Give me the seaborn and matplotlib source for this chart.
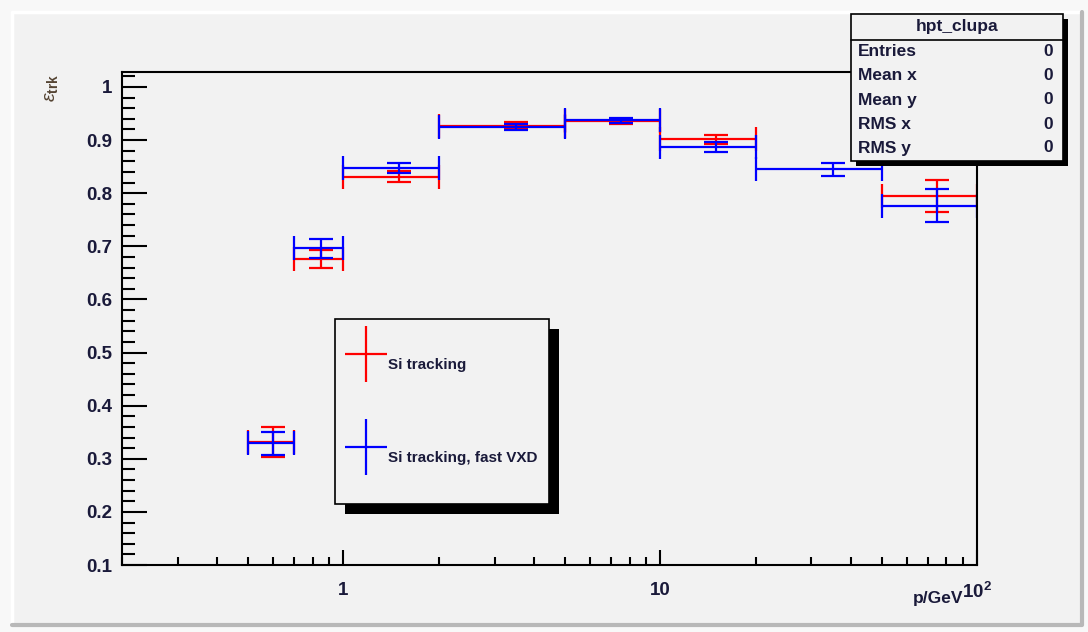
import numpy as np
import matplotlib
matplotlib.use("Agg")
import matplotlib.pyplot as plt
import seaborn as sns
from matplotlib.patches import Rectangle
from matplotlib.lines import Line2D
from matplotlib.ticker import FixedLocator, FixedFormatter, NullFormatter, MultipleLocator

# momentum bins (GeV) and track efficiencies
bin_low = [0.5, 0.7, 1.0, 2.0, 5.0, 10.0, 20.0, 50.0]
bin_high = [0.7, 1.0, 2.0, 5.0, 10.0, 20.0, 50.0, 100.0]
p_center = [0.6, 0.85, 1.5, 3.5, 7.5, 15.0, 35.0, 75.0]

eff_si = [0.331, 0.676, 0.831, 0.927, 0.935, 0.901, np.nan, 0.794]
err_si = [0.028, 0.017, 0.010, 0.006, 0.005, 0.009, np.nan, 0.030]
eff_fast = [0.329, 0.696, 0.847, 0.925, 0.937, 0.887, 0.845, 0.776]
err_fast = [0.021, 0.018, 0.010, 0.006, 0.005, 0.009, 0.012, 0.031]

series_labels = ["Si tracking", "Si tracking, fast VXD"]
series_colors = ["#ff0000", "#0000ff"]

x_ticks = [1, 10, 100]
x_tick_labels = ["1", "10", r"$\mathbf{10^{2}}$"]
y_ticks = [0.1, 0.2, 0.3, 0.4, 0.5, 0.6, 0.7, 0.8, 0.9, 1.0]
y_tick_labels = ["0.1", "0.2", "0.3", "0.4", "0.5", "0.6", "0.7", "0.8", "0.9", "1"]

hist_name = "hpt_clupa"
stat_names = ["Entries", "Mean x", "Mean y", "RMS x", "RMS y"]
stat_values = [0, 0, 0, 0, 0]

sns.set_theme(style="ticks")
plt.rcParams["font.family"] = ["Liberation Sans", "DejaVu Sans"]
plt.rcParams["mathtext.fontset"] = "custom"
plt.rcParams["mathtext.rm"] = "Liberation Sans"
plt.rcParams["mathtext.bf"] = "Liberation Sans:bold"
plt.rcParams["mathtext.it"] = "Liberation Sans:italic"

W, H = 1088, 632
bg = "#f2f2f2"
txt = "#1a1a3a"
fig = plt.figure(figsize=(W / 100, H / 100), dpi=100, facecolor="#f8f8f8")


def px(x, y):
    return x / W, 1 - y / H


# canvas bevel
fig.add_artist(Rectangle(px(12, 625), (1082 - 12) / W, (625 - 12) / H, transform=fig.transFigure,
                         facecolor=bg, edgecolor="none", zorder=-10))
fig.add_artist(Line2D([px(12, 625)[0], px(12, 12)[0], px(1082, 12)[0]],
                      [px(12, 625)[1], px(12, 12)[1], px(1082, 12)[1]],
                      transform=fig.transFigure, color="white", lw=2.5, zorder=-9))
fig.add_artist(Line2D([px(12, 625)[0], px(1082, 625)[0], px(1082, 12)[0]],
                      [px(12, 625)[1], px(1082, 625)[1], px(1082, 12)[1]],
                      transform=fig.transFigure, color="#b8b8b8", lw=3, zorder=-9))

ax = fig.add_axes([122 / W, 1 - 565 / H, (977 - 122) / W, (565 - 72) / H])
ax.set_facecolor(bg)

series = [(eff_si, err_si), (eff_fast, err_fast)]
centers = np.array(p_center)
xerr = [centers - np.array(bin_low), np.array(bin_high) - centers]
for (eff, err), color in zip(series, series_colors):
    ax.errorbar(p_center, eff, xerr=xerr, yerr=err, fmt="none", ecolor=color,
                elinewidth=1.6, capsize=8.5, capthick=1.6, zorder=2)

ax.set_xscale("log")
ax.set_xlim(0.2, 100)
ax.set_ylim(0.1, 1.028)

ax.xaxis.set_major_locator(FixedLocator(x_ticks))
ax.xaxis.set_major_formatter(FixedFormatter(x_tick_labels))
ax.xaxis.set_minor_locator(FixedLocator([m * d for d in (0.1, 1, 10) for m in range(2, 10)]))
ax.xaxis.set_minor_formatter(NullFormatter())
ax.yaxis.set_major_locator(FixedLocator(y_ticks))
ax.yaxis.set_major_formatter(FixedFormatter(y_tick_labels))
ax.yaxis.set_minor_locator(MultipleLocator(0.02))

for s in ax.spines.values():
    s.set_color("black")
    s.set_linewidth(1.5)
ax.tick_params(axis="y", which="major", direction="in", length=18, width=1.5, pad=7,
               labelsize=13.5, color="black")
ax.tick_params(axis="y", which="minor", direction="in", length=9, width=1.5, color="black")
ax.tick_params(axis="x", which="major", direction="in", length=11, width=1.5, pad=12,
               labelsize=13.5, color="black")
ax.tick_params(axis="x", which="minor", direction="in", length=6, width=1.5, color="black")
for lab in ax.get_xticklabels() + ax.get_yticklabels():
    lab.set_fontweight("bold")
    lab.set_color(txt)

# axis titles
fig.text(*px(52, 88), r"$\epsilon_{\mathbf{trk}}$", rotation=90, ha="center", va="center",
         fontsize=14, color="#554433")
fig.text(*px(963, 598), "p/GeV", ha="right", va="center", fontsize=12.5,
         fontweight="bold", color=txt)

# legend
handles = []
for color in series_colors:
    handles.append((Line2D([], [], color=color, marker="|", markersize=40, markeredgewidth=1.6, ls="none"),
                    Line2D([], [], color=color, marker="_", markersize=30, markeredgewidth=1.6, ls="none")))
leg = ax.legend(handles, series_labels, loc="upper left",
                bbox_to_anchor=((335 - 122) / 855, 1 - (319 - 72) / 493, (549 - 335) / 855, 0),
                mode="expand", borderaxespad=0, frameon=True, fancybox=False, framealpha=1,
                facecolor=bg, edgecolor="black", prop={"size": 11, "weight": "bold"},
                handlelength=1.4, handleheight=4.7, handletextpad=0.75, labelspacing=2.8,
                borderpad=1.35)
leg.get_frame().set_linewidth(1.2)
for t in leg.get_texts():
    t.set_color(txt)

fig.canvas.draw()
bb = leg.get_window_extent()
inv = ax.transAxes.inverted()
(lx0, ly0), (lx1, ly1) = inv.transform([(bb.x0, bb.y0), (bb.x1, bb.y1)])
ax.add_patch(Rectangle((lx0 + 10 / 855, ly0 - 10 / 493), lx1 - lx0, ly1 - ly0, transform=ax.transAxes,
                       facecolor="black", edgecolor="none", zorder=4.9, clip_on=False))

# statistics box
bx0, by0, bx1, by1 = 851, 14, 1063, 161
fig.add_artist(Rectangle(px(bx0 + 5, by1 + 5), (bx1 - bx0) / W, (by1 - by0) / H,
                         transform=fig.transFigure, facecolor="black", edgecolor="none", zorder=5))
fig.add_artist(Rectangle(px(bx0, by1), (bx1 - bx0) / W, (by1 - by0) / H,
                         transform=fig.transFigure, facecolor=bg, edgecolor="black", lw=1.2, zorder=6))
fig.add_artist(Line2D([bx0 / W, bx1 / W], [px(0, 40)[1]] * 2, transform=fig.transFigure,
                      color="black", lw=1.2, zorder=7))
fig.text(*px((bx0 + bx1) / 2, 27), hist_name, ha="center", va="center", fontsize=12.5,
         fontweight="bold", color=txt, zorder=8)
row_y = [51, 75, 100, 125, 148]
for name, val, yy in zip(stat_names, stat_values, row_y):
    fig.text(*px(858, yy), name, ha="left", va="center", fontsize=12.5,
             fontweight="bold", color=txt, zorder=8)
    fig.text(*px(1053, yy), str(val), ha="right", va="center", fontsize=12.5,
             fontweight="bold", color=txt, zorder=8)

fig.savefig("out.png", dpi=100, facecolor=fig.get_facecolor())
